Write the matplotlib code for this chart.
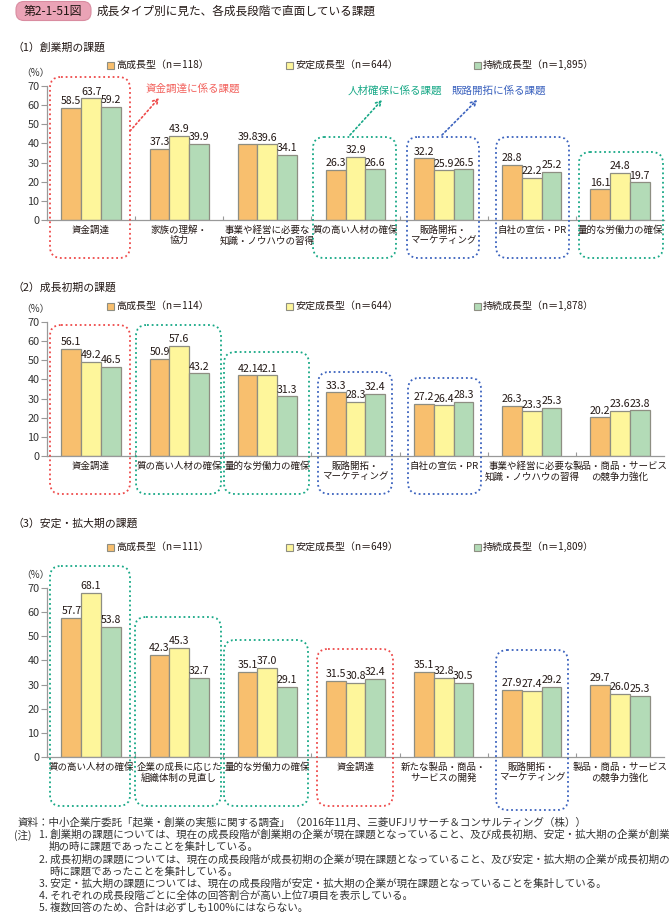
import matplotlib
matplotlib.use('Agg')
import matplotlib.pyplot as plt
from matplotlib.patches import FancyBboxPatch, Rectangle
import numpy as np

plt.rcParams['font.family'] = ['Noto Sans CJK JP', 'DejaVu Sans']

# ---------------- data ----------------
series_names = ['高成長型', '安定成長型', '持続成長型']

cats1 = ['資金調達', '家族の理解・\n協力', '事業や経営に必要な\n知識・ノウハウの習得', '質の高い人材の確保',
         '販路開拓・\nマーケティング', '自社の宣伝・PR', '量的な労働力の確保']
high1 = [58.5, 37.3, 39.8, 26.3, 32.2, 28.8, 16.1]
stable1 = [63.7, 43.9, 39.6, 32.9, 25.9, 22.2, 24.8]
sustain1 = [59.2, 39.9, 34.1, 26.6, 26.5, 25.2, 19.7]
n1 = ['118', '644', '1,895']

cats2 = ['資金調達', '質の高い人材の確保', '量的な労働力の確保', '販路開拓・\nマーケティング',
         '自社の宣伝・PR', '事業や経営に必要な\n知識・ノウハウの習得', '製品・商品・サービス\nの競争力強化']
high2 = [56.1, 50.9, 42.1, 33.3, 27.2, 26.3, 20.2]
stable2 = [49.2, 57.6, 42.1, 28.3, 26.4, 23.3, 23.6]
sustain2 = [46.5, 43.2, 31.3, 32.4, 28.3, 25.3, 23.8]
n2 = ['114', '644', '1,878']

cats3 = ['質の高い人材の確保', '企業の成長に応じた\n組織体制の見直し', '量的な労働力の確保', '資金調達',
         '新たな製品・商品・\nサービスの開発', '販路開拓・\nマーケティング', '製品・商品・サービス\nの競争力強化']
high3 = [57.7, 42.3, 35.1, 31.5, 35.1, 27.9, 29.7]
stable3 = [68.1, 45.3, 37.0, 30.8, 32.8, 27.4, 26.0]
sustain3 = [53.8, 32.7, 29.1, 32.4, 30.5, 29.2, 25.3]
n3 = ['111', '649', '1,809']

yticks = [0, 10, 20, 30, 40, 50, 60, 70]

# ---------------- style ----------------
W, H = 669, 914
colors = ['#F8BF6E', '#FEF69B', '#B3DBB7']
edge = '#8E8E82'
RED = '#EE4A4A'
GREEN = '#17A886'
BLUE = '#3B62BE'
TXT = '#231815'

fig = plt.figure(figsize=(W / 100, H / 100), dpi=100)


def px_axes(left, top, right, bottom):
    return fig.add_axes([left / W, 1 - bottom / H, (right - left) / W, (bottom - top) / H])


def panel(ax, cats, vals):
    x = np.arange(len(cats))
    w = 0.224
    for i, (v, c) in enumerate(zip(vals, colors)):
        bars = ax.bar(x + (i - 1) * w, v, w, color=c, edgecolor=edge, linewidth=0.9, zorder=2)
        for b, val in zip(bars, v):
            ax.text(b.get_x() + b.get_width() / 2, val + 0.8, f'{val:.1f}', ha='center', va='bottom',
                    fontsize=7.6, color=TXT, zorder=3)
    ax.set_xlim(-0.5, len(cats) - 0.5)
    ax.set_ylim(0, 70)
    ax.set_yticks(yticks)
    ax.set_xticks(x)
    ax.set_xticklabels(cats, fontsize=6.8, linespacing=1.15, color=TXT)
    ax.set_xticks(np.arange(0.5, len(cats) - 0.5, 1), minor=True)
    ax.tick_params(axis='x', which='major', length=0, pad=4)
    ax.tick_params(axis='x', which='minor', length=3, direction='in', color='#999999', width=0.8)
    ax.tick_params(axis='y', length=4, direction='out', color='#999999', labelsize=7.8, pad=1.5,
                   labelcolor='#333333', width=0.8)
    for s in ['top', 'right']:
        ax.spines[s].set_visible(False)
    for s in ['left', 'bottom']:
        ax.spines[s].set_color('#999999')
        ax.spines[s].set_linewidth(0.9)
    ax.patch.set_alpha(0)


ax1 = px_axes(47, 86, 664, 220)
panel(ax1, cats1, [high1, stable1, sustain1])
ax2 = px_axes(47, 322, 664, 456)
panel(ax2, cats2, [high2, stable2, sustain2])
ax3 = px_axes(47, 588, 664, 757)
panel(ax3, cats3, [high3, stable3, sustain3])

# ---------------- overlay (decorations in pixel coordinates) ----------------
ov = fig.add_axes([0, 0, 1, 1])
ov.set_xlim(0, W)
ov.set_ylim(H, 0)
ov.axis('off')
ov.patch.set_alpha(0)

# title
ov.add_patch(FancyBboxPatch((16, 1.5), 75, 19, boxstyle='round,pad=0,rounding_size=8',
                            facecolor='#EAA3B6', edgecolor='#D98CA0', linewidth=0.8))
ov.text(53, 11.5, '第2-1-51図', ha='center', va='center', fontsize=8.6, color=TXT)
ov.text(97, 11.5, '成長タイプ別に見た、各成長段階で直面している課題', ha='left', va='center',
        fontsize=8.4, color=TXT)

# panel titles
ov.text(13, 47, '（1）創業期の課題', ha='left', va='center', fontsize=7.8, color=TXT)
ov.text(13, 287, '（2）成長初期の課題', ha='left', va='center', fontsize=7.8, color=TXT)
ov.text(13, 523, '（3）安定・拡大期の課題', ha='left', va='center', fontsize=7.8, color=TXT)

# (%) labels
for y in [73, 309, 575]:
    ov.text(35, y, '（%）', ha='center', va='center', fontsize=7, color='#333333')

# legends
leg_x = [107, 286, 474]
for y, ns in [(65, n1), (306, n2), (547, n3)]:
    for xs, name, c, n in zip(leg_x, series_names, colors, ns):
        ov.add_patch(Rectangle((xs, y - 3.5), 7, 7, facecolor=c, edgecolor=edge, linewidth=0.8))
        ov.text(xs + 9, y, f'{name}（n＝{n}）', ha='left', va='center', fontsize=7.2, color=TXT)


def dbox(x0, y0, x1, y1, color):
    ov.add_patch(FancyBboxPatch((x0, y0), x1 - x0, y1 - y0, boxstyle='round,pad=0,rounding_size=11',
                                fill=False, edgecolor=color, linewidth=1.3, linestyle=(0, (1, 1.6))))


# panel 1 boxes
dbox(50, 77, 130, 258, RED)
dbox(313, 137, 396, 258, GREEN)
dbox(407, 137, 479, 258, BLUE)
dbox(496, 137, 569, 258, BLUE)
dbox(579, 152, 663, 258, GREEN)
# panel 2 boxes
dbox(50, 325, 130, 494, RED)
dbox(136, 325, 221, 494, GREEN)
dbox(224, 352, 309, 494, GREEN)
dbox(318, 372, 392, 494, BLUE)
dbox(408, 378, 481, 494, BLUE)
# panel 3 boxes
dbox(50, 566, 130, 806, GREEN)
dbox(135, 617, 221, 806, GREEN)
dbox(224, 640, 308, 806, GREEN)
dbox(317, 649, 393, 806, RED)
dbox(496, 650, 568, 810, BLUE)

# annotations
ov.text(146, 89, '資金調達に係る課題', ha='left', va='center', fontsize=7.6, color='#F2615C')
ov.text(348, 91, '人材確保に係る課題', ha='left', va='center', fontsize=7.6, color=GREEN)
ov.text(452, 91, '販路開拓に係る課題', ha='left', va='center', fontsize=7.6, color=BLUE)
for (x0, y0, x1, y1, c) in [(130, 131, 159, 98, RED), (350, 135, 382, 100, GREEN),
                            (442, 135, 477, 100, BLUE)]:
    ov.annotate('', xy=(x1, y1), xytext=(x0, y0),
                arrowprops=dict(arrowstyle='->,head_length=0.35,head_width=0.2', linestyle=(0, (1, 1.6)),
                                color=c, lw=1.2, shrinkA=0, shrinkB=0))

# footnotes
fs = 7.6
fc = '#333333'
ov.text(18, 822, '資料：中小企業庁委託「起業・創業の実態に関する調査」（2016年11月、三菱UFJリサーチ＆コンサルティング（株））',
        ha='left', va='center', fontsize=fs, color=fc)
ov.text(14, 835, '(注)', ha='left', va='center', fontsize=fs, color=fc)
notes = [
    (39, 835, '1. 創業期の課題については、現在の成長段階が創業期の企業が現在課題となっていること、及び成長初期、安定・拡大期の企業が創業'),
    (49, 847, '期の時に課題であったことを集計している。'),
    (39, 860, '2. 成長初期の課題については、現在の成長段階が成長初期の企業が現在課題となっていること、及び安定・拡大期の企業が成長初期の'),
    (49, 872, '時に課題であったことを集計している。'),
    (39, 884, '3. 安定・拡大期の課題については、現在の成長段階が安定・拡大期の企業が現在課題となっていることを集計している。'),
    (39, 896, '4. それぞれの成長段階ごとに全体の回答割合が高い上位7項目を表示している。'),
    (39, 908, '5. 複数回答のため、合計は必ずしも100%にはならない。'),
]
for x, y, t in notes:
    ov.text(x, y, t, ha='left', va='center', fontsize=fs, color=fc)

fig.savefig('out.png', dpi=100)
